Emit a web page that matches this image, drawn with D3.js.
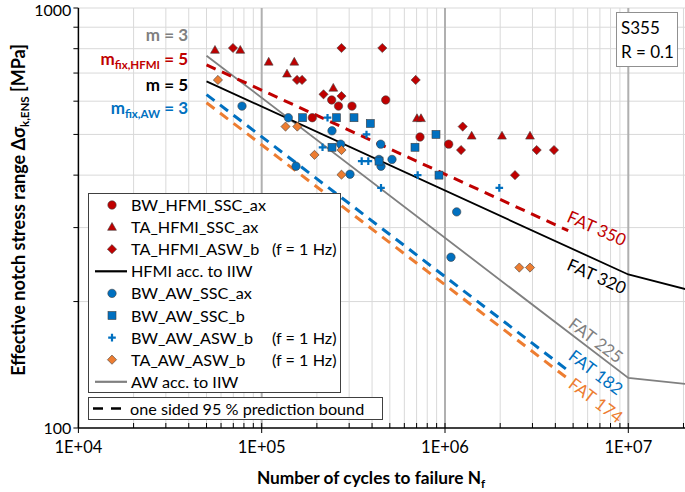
<!DOCTYPE html>
<html><head><meta charset="utf-8">
<script src="https://cdn.jsdelivr.net/npm/d3@7/dist/d3.min.js"></script>
<style>body{margin:0;background:#fff;} svg{font-family:Lato,'Open Sans',sans-serif;display:block;}</style>
</head><body><svg id="c" width="685" height="492"></svg>
<script>
// ---------- data ----------
const xTickValues = [1e4, 1e5, 1e6, 1e7];
const xTickLabels = ["1E+04", "1E+05", "1E+06", "1E+07"];
const yTickValues = [100, 1000];
const yTickLabels = ["100", "1000"];

// BW_HFMI_SSC_ax (red circles)  [N, stress]
const bwHfmiSscAx = [[188800,548],[240900,604],[262400,584],[310900,584],[474800,604],[730600,493],[1047600,474]];
// TA_HFMI_SSC_ax (red triangles)
const taHfmiSscAx = [[55600,794],[76400,794],[109200,744],[150600,744],[137400,697],[245800,645],[703500,546],[739600,546],[1398000,496],[2046000,496],[2909000,496]];
// TA_HFMI_ASW_b (red diamonds)
const taHfmiAswB = [[69700,803],[155800,674],[166000,674],[217400,623],[272500,617],[272500,803],[455000,803],[692000,674],[1249000,522],[1223000,459],[3164000,459],[3932000,459],[2409000,400]];
// BW_AW_SSC_ax (blue circles)
const bwAwSscAx = [[78100,584],[139700,548],[241800,510],[269800,474],[153900,420],[303200,402],[445900,474],[436500,436],[447600,420],[513900,436],[1158000,327],[1078000,255]];
// BW_AW_SSC_b (blue squares)
const bwAwSscB = [[167000,548],[255900,548],[318800,548],[391200,531],[241800,466],[436500,432],[686000,466],[893000,500],[927400,400]];
// BW_AW_ASW_b (blue crosses)
const bwAwAswB = [[228600,548],[373000,500],[214700,466],[351200,432],[381500,432],[709700,400],[447600,373],[1978000,373]];
// TA_AW_ASW_b (orange diamonds)
const taAwAswB = [[57700,674],[134900,522],[156400,522],[194100,447],[272500,459],[272500,401],[2543000,241],[2909000,241]];

// design curves [N, stress]
const hfmiIIW = [[5e4,669],[1e7,232],[2.1e7,213.6]];
const awIIW = [[5e4,770],[1e7,131.6],[2.1e7,127.2]];
const fat350 = [[5e4,732],[4.7e6,295]];
const fat182 = [[5e4,622],[4.8e6,136]];
const fat174 = [[5e4,595],[4.8e6,130]];

const fatLabels = ["FAT 350","FAT 320","FAT 225","FAT 182","FAT 174"];
const legendNames = ["BW_HFMI_SSC_ax","TA_HFMI_SSC_ax","TA_HFMI_ASW_b","HFMI acc. to IIW","BW_AW_SSC_ax","BW_AW_SSC_b","BW_AW_ASW_b","TA_AW_ASW_b","AW acc. to IIW"];

// ---------- colours ----------
const RED = "#C00000", BLUE = "#0070C0", ORANGE = "#ED7D31", GRAY = "#808080";

const svg = d3.select("#c");
const x = d3.scaleLog().domain([1e4, 1e7]).range([78.4, 628.3]);
const y = d3.scaleLog().domain([100, 1000]).range([428, 8]);
const xMax = 685;

// ---------- grid ----------
const grid = svg.append("g");
const minorX = [];
for (let k = 4; k <= 7; k++) for (let m = 2; m <= 9; m++) { const v = m * Math.pow(10, k); if (x(v) <= xMax) minorX.push(v); }
grid.selectAll(".vmin").data(minorX).join("line")
  .attr("x1", d => x(d)).attr("x2", d => x(d)).attr("y1", y(1000)).attr("y2", y(100))
  .attr("stroke", "#d9d9d9").attr("stroke-width", 1);
const minorY = d3.range(2, 11).map(m => m * 100);
grid.selectAll(".hmin").data(minorY).join("line")
  .attr("x1", x(1e4)).attr("x2", xMax).attr("y1", d => y(d)).attr("y2", d => y(d))
  .attr("stroke", "#d9d9d9").attr("stroke-width", 1);
grid.selectAll(".vmaj").data([1e5, 1e6, 1e7]).join("line")
  .attr("x1", d => x(d)).attr("x2", d => x(d)).attr("y1", y(1000)).attr("y2", y(100))
  .attr("stroke", "#b0b0b0").attr("stroke-width", 2);

// ---------- axes ----------
const ax = svg.append("g");
ax.append("line").attr("x1", x(1e4)).attr("x2", xMax).attr("y1", y(100)).attr("y2", y(100)).attr("stroke", "#000").attr("stroke-width", 1.5);
ax.append("line").attr("x1", x(1e4)).attr("x2", x(1e4)).attr("y1", y(1000)).attr("y2", y(100)).attr("stroke", "#000").attr("stroke-width", 1.5);
ax.selectAll(".xt").data(minorX).join("line")
  .attr("x1", d => x(d)).attr("x2", d => x(d)).attr("y1", y(100) - 5).attr("y2", y(100))
  .attr("stroke", "#000");
ax.selectAll(".xT").data(xTickValues).join("line")
  .attr("x1", d => x(d)).attr("x2", d => x(d)).attr("y1", y(100) - 5).attr("y2", y(100) + 5)
  .attr("stroke", "#000");
ax.selectAll(".yt").data(d3.range(1, 11).map(m => m * 100)).join("line")
  .attr("x1", x(1e4) - 5).attr("x2", x(1e4)).attr("y1", d => y(d)).attr("y2", d => y(d))
  .attr("stroke", "#000");
ax.selectAll(".xl").data(xTickValues).join("text")
  .attr("x", d => x(d)).attr("y", y(100) + 25).attr("text-anchor", "middle")
  .attr("font-size", 16.5).text((d, i) => xTickLabels[i]);
ax.selectAll(".yl").data(yTickValues).join("text")
  .attr("x", x(1e4) - 7).attr("y", (d, i) => i === 1 ? 16 : y(d) + 6).attr("text-anchor", "end")
  .attr("font-size", 16).text((d, i) => yTickLabels[i]);

// axis titles
const xt = svg.append("text").attr("x", 371).attr("y", 484).attr("text-anchor", "middle")
  .attr("font-size", 17.3).attr("font-weight", "bold");
xt.append("tspan").text("Number of cycles to failure N");
xt.append("tspan").attr("font-size", 11.5).attr("dy", 4).text("f");
const yt = svg.append("text").attr("transform", "translate(25,210) rotate(-90)").attr("text-anchor", "middle")
  .attr("font-size", 18).attr("font-weight", "bold");
yt.append("tspan").text("Effective notch stress range Δσ");
yt.append("tspan").attr("font-size", 11.5).attr("dy", 4).text("k,ENS");
yt.append("tspan").attr("dy", -4).text(" [MPa]");

// ---------- curves ----------
const line = d3.line().x(d => x(d[0])).y(d => y(d[1]));
const curves = svg.append("g").attr("fill", "none");
curves.append("path").datum(awIIW).attr("d", line).attr("stroke", GRAY).attr("stroke-width", 1.8);
curves.append("path").datum(hfmiIIW).attr("d", line).attr("stroke", "#000").attr("stroke-width", 1.8);
curves.append("path").datum(fat350).attr("d", line).attr("stroke", RED).attr("stroke-width", 3).attr("stroke-dasharray", "10,7");
curves.append("path").datum(fat182).attr("d", line).attr("stroke", BLUE).attr("stroke-width", 3).attr("stroke-dasharray", "10,7");
curves.append("path").datum(fat174).attr("d", line).attr("stroke", ORANGE).attr("stroke-width", 3).attr("stroke-dasharray", "10,7");

// ---------- markers ----------
function drawMarker(g, type, color) {
  if (type === "circle") g.append("circle").attr("r", 4.2).attr("fill", color).attr("stroke", "#404040").attr("stroke-width", 0.6);
  else if (type === "triangle") g.append("path").attr("d", "M0,-4.6L4.4,3.2L-4.4,3.2Z").attr("fill", color).attr("stroke", "#404040").attr("stroke-width", 0.6);
  else if (type === "diamond") g.append("path").attr("d", "M0,-4.6L4.6,0L0,4.6L-4.6,0Z").attr("fill", color).attr("stroke", "#404040").attr("stroke-width", 0.6);
  else if (type === "square") g.append("rect").attr("x", -4).attr("y", -4).attr("width", 8).attr("height", 8).attr("fill", color).attr("stroke", "#404040").attr("stroke-width", 0.6);
  else if (type === "cross") g.append("path").attr("d", "M-3.8,0H3.8M0,-3.8V3.8").attr("stroke", color).attr("stroke-width", 2.2).attr("fill", "none");
}
const seriesList = [
  {data: bwHfmiSscAx, type: "circle", color: RED},
  {data: taHfmiSscAx, type: "triangle", color: RED},
  {data: taHfmiAswB, type: "diamond", color: RED},
  {data: bwAwSscAx, type: "circle", color: BLUE},
  {data: bwAwSscB, type: "square", color: BLUE},
  {data: bwAwAswB, type: "cross", color: BLUE},
  {data: taAwAswB, type: "diamond", color: ORANGE}
];
const pts = svg.append("g");
seriesList.forEach(s => {
  s.data.forEach(d => {
    const g = pts.append("g").attr("transform", `translate(${x(d[0])},${y(d[1])})`);
    drawMarker(g, s.type, s.color);
  });
});

// ---------- slope labels ----------
function slopeLabel(yy, color, sub, val) {
  const t = svg.append("text").attr("x", 188).attr("y", yy).attr("text-anchor", "end")
    .attr("font-size", 17).attr("font-weight", "bold").attr("fill", color);
  t.append("tspan").text("m");
  if (sub) { t.append("tspan").attr("font-size", 11.5).attr("dy", 4).text(sub); t.append("tspan").attr("dy", -4).text(" = " + val); }
  else t.append("tspan").text(" = " + val);
  return t;
}
slopeLabel(41, GRAY, null, "3");
slopeLabel(65, RED, "fix,HFMI", "5");
slopeLabel(91, "#000", null, "5");
slopeLabel(114, BLUE, "fix,AW", "3");

// ---------- FAT labels ----------
const fatPos = [[597,228,24],[597,276,24],[596,340,37],[596,372,37],[596,400,37]];
const fatColors = [RED, "#000", GRAY, BLUE, ORANGE];
fatLabels.forEach((lab, i) => {
  svg.append("text").attr("transform", `translate(${fatPos[i][0]},${fatPos[i][1]}) rotate(${fatPos[i][2]})`)
    .attr("text-anchor", "middle").attr("dominant-baseline", "central")
    .attr("font-size", 17).attr("fill", fatColors[i]).text(lab);
});

// ---------- S355 box ----------
svg.append("rect").attr("x", 616.5).attr("y", 12.5).attr("width", 61).attr("height", 54).attr("fill", "#fff").attr("stroke", "#909090").attr("stroke-width", 1);
svg.append("text").attr("x", 621).attr("y", 34).attr("font-size", 17).text("S355");
svg.append("text").attr("x", 621).attr("y", 58).attr("font-size", 17).text("R = 0.1");

// ---------- legend ----------
const leg = svg.append("g");
leg.append("rect").attr("x", 88.5).attr("y", 193.5).attr("width", 252).attr("height", 199).attr("fill", "#fff").attr("stroke", "#404040").attr("stroke-width", 1);
const legTypes = [["circle",RED],["triangle",RED],["diamond",RED],["line","#000"],["circle",BLUE],["square",BLUE],["cross",BLUE],["diamond",ORANGE],["line",GRAY]];
const legHz = [false,false,true,false,false,false,true,true,false];
legendNames.forEach((name, i) => {
  const cy = 205 + i * 22.1;
  if (legTypes[i][0] === "line") {
    leg.append("line").attr("x1", 95).attr("x2", 127).attr("y1", cy).attr("y2", cy).attr("stroke", legTypes[i][1]).attr("stroke-width", 2.2);
  } else {
    const g = leg.append("g").attr("transform", `translate(112,${cy})`);
    drawMarker(g, legTypes[i][0], legTypes[i][1]);
  }
  leg.append("text").attr("x", 131).attr("y", cy + 6).attr("font-size", 16.2).text(name);
  if (legHz[i]) leg.append("text").attr("x", 272).attr("y", cy + 6).attr("font-size", 16.2).text("(f = 1 Hz)");
});
leg.append("rect").attr("x", 88.5).attr("y", 397.5).attr("width", 294).attr("height", 22).attr("fill", "#fff").attr("stroke", "#404040").attr("stroke-width", 1);
leg.append("line").attr("x1", 93).attr("x2", 124).attr("y1", 408.5).attr("y2", 408.5).attr("stroke", "#000").attr("stroke-width", 2.5).attr("stroke-dasharray", "10,8");
leg.append("text").attr("x", 130).attr("y", 414.5).attr("font-size", 16.2).text("one sided 95 % prediction bound");
</script></body></html>
